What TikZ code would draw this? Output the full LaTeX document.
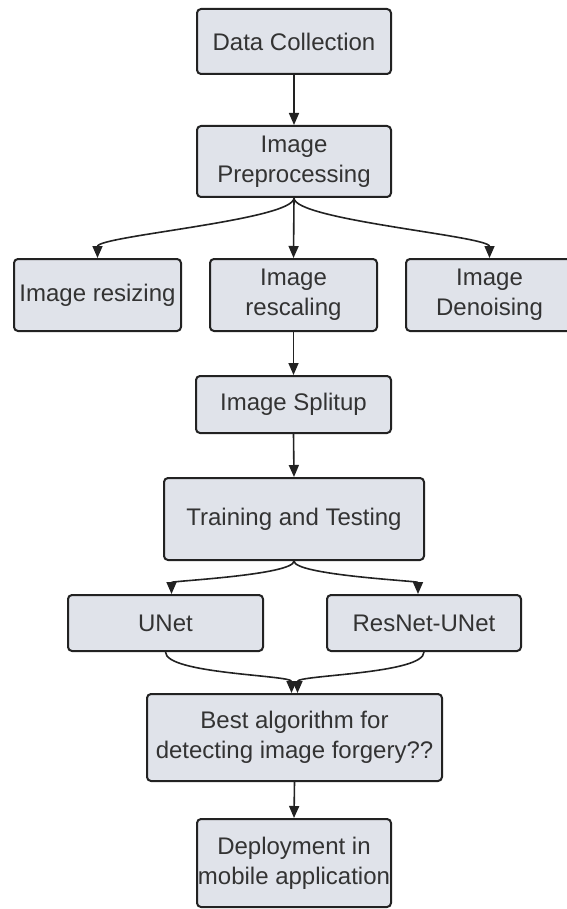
\documentclass[tikz,border=0pt]{standalone}
\usepackage{fontspec}
\setmainfont{Liberation Sans}
\usetikzlibrary{arrows.meta}
\definecolor{boxfill}{RGB}{224,227,234}
\definecolor{boxline}{RGB}{34,34,34}
\definecolor{txt}{RGB}{51,51,51}
\tikzset{
  box/.style={draw=boxline, fill=boxfill, line width=2pt, rounded corners=4pt,
    inner sep=0pt, align=center, text=txt, font=\fontsize{24}{30}\selectfont},
  arr/.style={draw=boxline, line width=1.6pt, -{Triangle[length=12pt,width=10pt]}}
}
\begin{document}
\begin{tikzpicture}[x=1pt,y=-1pt]
\useasboundingbox (0,0) rectangle (566,909);
\node[box, minimum width=194pt, minimum height=65pt] (dc) at (294,41.5) {Data Collection};
\node[box, minimum width=194pt, minimum height=71pt] (pre) at (294,161.5) {Image\\Preprocessing};
\node[box, minimum width=167pt, minimum height=72pt] (res) at (97.5,295) {Image resizing};
\node[box, minimum width=167pt, minimum height=72pt] (resc) at (293.5,295) {Image\\rescaling};
\node[box, minimum width=167pt, minimum height=72pt] (den) at (489.5,295) {Image\\Denoising};
\node[box, minimum width=195pt, minimum height=57pt] (split) at (293.5,404.5) {Image Splitup};
\node[box, minimum width=260pt, minimum height=82pt] (train) at (294,519) {Training and Testing};
\node[box, minimum width=195pt, minimum height=56pt] (unet) at (165.5,623) {UNet};
\node[box, minimum width=194pt, minimum height=56pt] (resnet) at (424,623) {ResNet-UNet};
\node[box, minimum width=295pt, minimum height=87pt] (best) at (294.5,737.5) {Best algorithm for\\detecting image forgery??};
\node[box, minimum width=194pt, minimum height=88pt] (dep) at (294,863) {Deployment in\\mobile application};

\draw[arr] (dc.south) -- (pre.north);
\draw[arr] (pre.south) .. controls +(0,22) and +(0,-22) .. (res.north);
\draw[arr] (pre.south) -- (resc.north);
\draw[arr] (pre.south) .. controls +(0,22) and +(0,-22) .. (den.north);
\draw[arr] (resc.south) -- (split.north);
\draw[arr] (split.south) -- (train.north);
\draw[arr] (train.south) .. controls +(0,14) and +(0,-13) .. ([xshift=6pt]unet.north);
\draw[arr] (train.south) .. controls +(0,14) and +(0,-13) .. ([xshift=-6pt]resnet.north);
\draw[arr] (unet.south) .. controls +(0,22) and +(0,-18) .. ([xshift=-3pt]best.north);
\draw[arr] (resnet.south) .. controls +(0,22) and +(0,-18) .. ([xshift=3pt]best.north);
\draw[arr] (best.south) -- (dep.north);
\end{tikzpicture}
\end{document}
